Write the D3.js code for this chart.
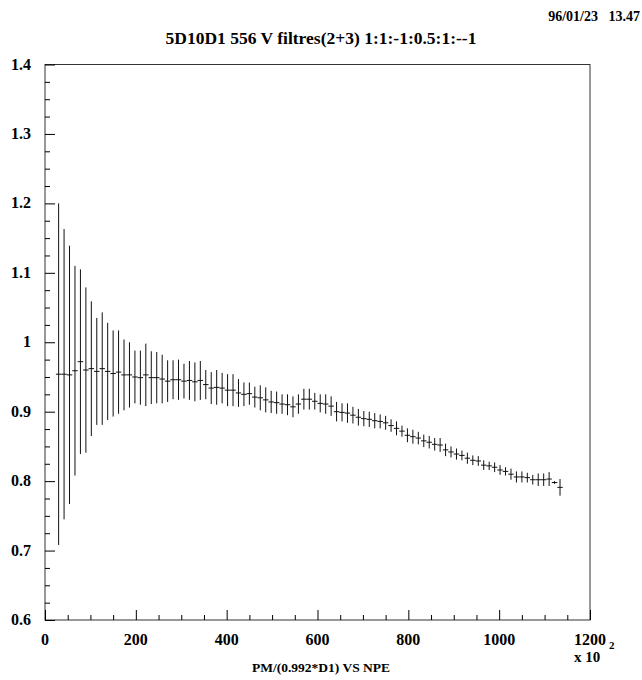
<!DOCTYPE html>
<html>
<head>
<meta charset="utf-8">
<script src="https://cdn.jsdelivr.net/npm/d3@7"></script>
<style>
  body { margin: 0; background: #fff; }
  text { font-family: "Liberation Serif", "Times New Roman", serif; font-weight: bold; fill: #000; }
</style>
</head>
<body>
<div id="chart"></div>
<script>
// bin centres: 12-unit bins, first filled bin centred at 30
const binWidth = 12;
const npe = d3.range(93).map(i => 30 + binWidth * i);

// ratio per bin
const ratio = [
    0.954, 0.954, 0.953, 0.959, 0.972, 0.960, 0.962, 0.958, 0.962, 0.958,
    0.955, 0.957, 0.953, 0.953, 0.950, 0.949, 0.953, 0.949, 0.949, 0.947,
    0.944, 0.946, 0.946, 0.944, 0.945, 0.943, 0.945, 0.939, 0.934, 0.935,
    0.934, 0.931, 0.931, 0.927, 0.925, 0.926, 0.921, 0.920, 0.917, 0.914,
    0.913, 0.911, 0.910, 0.907, 0.911, 0.918, 0.918, 0.915, 0.912, 0.911,
    0.908, 0.900, 0.899, 0.898, 0.895, 0.892, 0.890, 0.889, 0.887, 0.886,
    0.884, 0.880, 0.876, 0.872, 0.866, 0.864, 0.862, 0.858, 0.856, 0.853,
    0.852, 0.845, 0.842, 0.839, 0.837, 0.833, 0.830, 0.829, 0.823, 0.822,
    0.820, 0.816, 0.814, 0.810, 0.806, 0.806, 0.805, 0.802, 0.802, 0.802,
    0.803, 0.798, 0.791
];

// half-length of each error bar
const ratioErr = [
    0.246, 0.209, 0.186, 0.151, 0.133, 0.119, 0.097, 0.077, 0.081, 0.070,
    0.062, 0.060, 0.051, 0.047, 0.038, 0.039, 0.045, 0.038, 0.037, 0.035,
    0.030, 0.028, 0.029, 0.025, 0.028, 0.028, 0.028, 0.021, 0.023, 0.025,
    0.022, 0.023, 0.023, 0.020, 0.017, 0.016, 0.015, 0.018, 0.018, 0.016,
    0.016, 0.014, 0.015, 0.015, 0.014, 0.015, 0.015, 0.012, 0.013, 0.014,
    0.014, 0.014, 0.013, 0.014, 0.012, 0.012, 0.011, 0.011, 0.011, 0.010,
    0.010, 0.009, 0.010, 0.008, 0.010, 0.010, 0.009, 0.009, 0.009, 0.009,
    0.010, 0.009, 0.008, 0.008, 0.007, 0.008, 0.007, 0.007, 0.007, 0.006,
    0.007, 0.007, 0.006, 0.008, 0.008, 0.008, 0.007, 0.007, 0.009, 0.009,
    0.010, 0.002, 0.012
];

const xTicks = [0, 200, 400, 600, 800, 1000, 1200];
const yTicks = [0.6, 0.7, 0.8, 0.9, 1.0, 1.1, 1.2, 1.3, 1.4];

const data = npe.map((x, i) => ({x: x, y: ratio[i], e: ratioErr[i]}));

const width = 642, height = 680;
const margin = {top: 64.5, right: 52, bottom: 60, left: 45};

const svg = d3.select("#chart").append("svg")
    .attr("width", width)
    .attr("height", height);

const x = d3.scaleLinear().domain([0, 1200]).range([margin.left, width - margin.right]);
const y = d3.scaleLinear().domain([0.6, 1.4]).range([height - margin.bottom, margin.top]);

// frame
svg.append("rect")
    .attr("x", x(0))
    .attr("y", y(1.4))
    .attr("width", x(1200) - x(0))
    .attr("height", y(0.6) - y(1.4))
    .attr("fill", "none")
    .attr("stroke", "#333")
    .attr("stroke-width", 1);

// inward ticks, major + minor
const xAxis = d3.axisBottom(x).tickValues(d3.range(0, 1201, 50)).tickSize(-5).tickFormat("");
svg.append("g")
    .attr("transform", "translate(0," + y(0.6) + ")")
    .call(xAxis)
    .call(g => g.select(".domain").remove())
    .call(g => g.selectAll(".tick line").attr("stroke", "#000")
        .attr("y2", d => d % 200 === 0 ? -10 : -5));

const yAxis = d3.axisLeft(y).tickValues(d3.range(0, 33).map(i => 0.6 + i * 0.025)).tickSize(-5).tickFormat("");
svg.append("g")
    .attr("transform", "translate(" + x(0) + ",0)")
    .call(yAxis)
    .call(g => g.select(".domain").remove())
    .call(g => g.selectAll(".tick line").attr("stroke", "#000")
        .attr("x2", (d, i) => i % 4 === 0 ? 10 : 5));

// tick labels
svg.append("g").selectAll("text")
    .data(xTicks)
    .enter().append("text")
    .attr("x", d => x(d))
    .attr("y", y(0.6) + 25)
    .attr("text-anchor", "middle")
    .style("font-size", "16px")
    .text(d => d);

svg.append("g").selectAll("text")
    .data(yTicks)
    .enter().append("text")
    .attr("x", 31)
    .attr("y", d => y(d) + 5)
    .attr("text-anchor", "end")
    .style("font-size", "16px")
    .text(d => d3.format("~g")(d));

// x 10^2 multiplier
svg.append("text")
    .attr("x", 574)
    .attr("y", 662)
    .style("font-size", "15px")
    .text("x 10");
svg.append("text")
    .attr("x", 609)
    .attr("y", 649)
    .style("font-size", "11px")
    .text("2");

// titles
svg.append("text")
    .attr("x", 321)
    .attr("y", 672)
    .attr("text-anchor", "middle")
    .style("font-size", "13.5px")
    .text("PM/(0.992*D1) VS NPE");

svg.append("text")
    .attr("x", 321)
    .attr("y", 44)
    .attr("text-anchor", "middle")
    .style("font-size", "17.5px")
    .text("5D10D1 556 V filtres(2+3) 1:1:-1:0.5:1:--1");

svg.append("text")
    .attr("x", 640)
    .attr("y", 21)
    .attr("text-anchor", "end")
    .style("font-size", "14px")
    .style("white-space", "pre")
    .text("96/01/23   13.47");

// error bars
const marks = svg.append("g").attr("stroke", "#111").attr("stroke-width", 1);

marks.selectAll(".vbar")
    .data(data)
    .enter().append("line")
    .attr("class", "vbar")
    .attr("x1", d => x(d.x))
    .attr("x2", d => x(d.x))
    .attr("y1", d => y(d.y - d.e))
    .attr("y2", d => y(d.y + d.e));

marks.selectAll(".hbar")
    .data(data)
    .enter().append("line")
    .attr("class", "hbar")
    .attr("x1", d => x(d.x - binWidth / 2))
    .attr("x2", d => x(d.x + binWidth / 2))
    .attr("y1", d => y(d.y))
    .attr("y2", d => y(d.y));
</script>
</body>
</html>
